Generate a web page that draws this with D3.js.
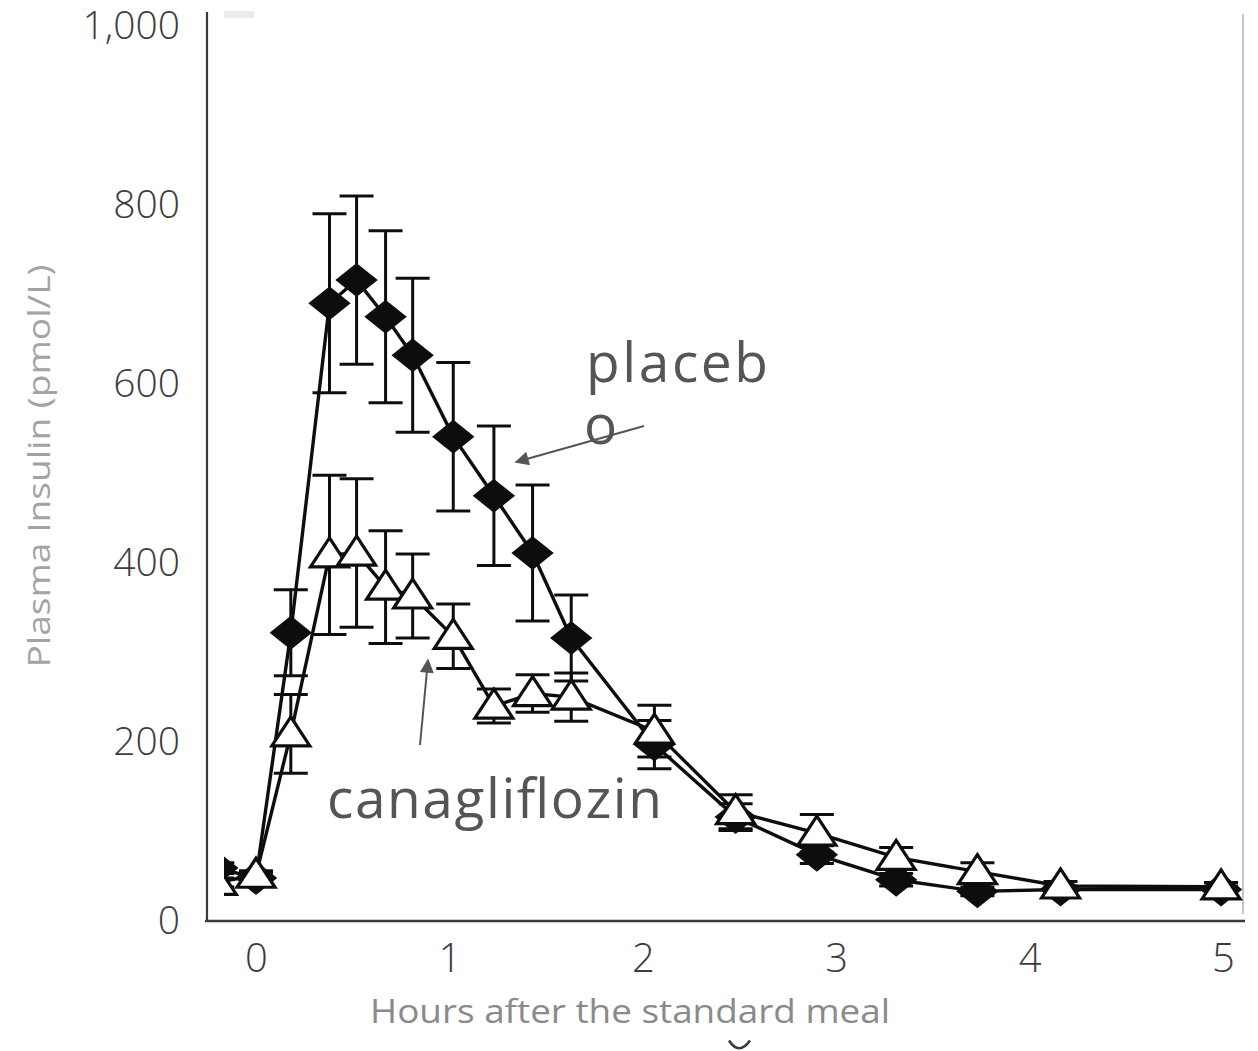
<!DOCTYPE html>
<html>
<head>
<meta charset="utf-8">
<script src="https://cdn.jsdelivr.net/npm/d3@7"></script>
<style>
  html, body { margin: 0; padding: 0; background: #fff; }
  svg { display: block; font-family: "Open Sans", "Noto Sans", sans-serif; }
</style>
</head>
<body>
<svg id="chart" width="1258" height="1051"></svg>
<script>
// Sampling times (hours after the meal)
const hours = [-0.2, 0, 0.18, 0.38, 0.52, 0.67, 0.81, 1.02, 1.23, 1.43, 1.63, 2.06, 2.48, 2.90, 3.31, 3.73, 4.16, 4.99];

// Mean plasma insulin (pmol/L) and standard errors
const placebo   = [58, 47, 321, 689, 715, 674, 631, 540, 474, 410, 315, 196, 115, 73, 45, 32, 34, 34];
const placeboSE = [6, 6, 48, 100, 94, 96, 86, 83, 78, 76, 48, 27, 15, 10, 7, 5, 4, 4];
const cana      = [42, 50, 208, 408, 410, 372, 362, 317, 239, 253, 249, 211, 121, 97, 70, 54, 38, 37];
const canaSE    = [5, 5, 44, 89, 83, 63, 47, 36, 19, 21, 27, 29, 19, 21, 11, 10, 5, 5];

const yTicks = [0, 200, 400, 600, 800, 1000];
const xTicks = [0, 1, 2, 3, 4, 5];

const svg = d3.select("#chart");

const x = d3.scaleLinear().domain([0, 5]).range([256, 1223]);
const y = d3.scaleLinear().domain([0, 1000]).range([920, 25]);

// soft edge on the plotted marks
const defs = svg.append("defs");
defs.append("filter").attr("id", "soft")
  .append("feGaussianBlur").attr("stdDeviation", 0.7);
defs.append("clipPath").attr("id", "plotClip")
  .append("rect").attr("x", 224).attr("y", 8).attr("width", 1019).attr("height", 910);

// small tinted strip in the top-left corner of the plot panel
svg.append("rect").attr("x", 224).attr("y", 11).attr("width", 30).attr("height", 7)
  .attr("fill", "#e9ecf1");

// right edge of the plot panel
svg.append("line").attr("x1", 1243).attr("x2", 1243).attr("y1", 14).attr("y2", 914)
  .attr("stroke", "#b5b5b5").attr("stroke-width", 1.5);

// axes (lines only, labels drawn separately)
const yAxis = d3.axisLeft(y).tickValues(yTicks).tickSize(0).tickFormat(d3.format(","));
const gy = svg.append("g").attr("transform", "translate(207,0)").call(yAxis);
gy.select(".domain").attr("stroke", "#3a3a3a").attr("stroke-width", 2.2)
  .attr("d", `M0,12V${y(0) + 1}`);
gy.selectAll(".tick text")
  .attr("x", -27)
  .attr("dy", "0.34em")
  .attr("font-size", 39)
  .attr("font-weight", 300)
  .attr("fill", "#3d3d3d")
  .attr("font-family", "'Open Sans', sans-serif");

const xAxis = d3.axisBottom(x).tickValues(xTicks).tickSize(0).tickFormat(d3.format("d"));
const gx = svg.append("g").attr("transform", `translate(0,${y(0) + 1})`).call(xAxis);
gx.select(".domain").attr("stroke", "#3a3a3a").attr("stroke-width", 2.4)
  .attr("d", "M205,0H1245");
gx.selectAll(".tick text")
  .attr("y", 37)
  .attr("dy", "0.34em")
  .attr("font-size", 40)
  .attr("font-weight", 300)
  .attr("fill", "#3d3d3d")
  .attr("font-family", "'Open Sans', sans-serif");

// axis titles
svg.append("text")
  .attr("transform", "translate(50,466) rotate(-90)")
  .attr("text-anchor", "middle")
  .attr("font-size", 31)
  .attr("fill", "#a3a3a3")
  .attr("textLength", 403).attr("lengthAdjust", "spacingAndGlyphs")
  .text("Plasma Insulin (pmol/L)");

svg.append("text")
  .attr("x", 630).attr("y", 1023)
  .attr("text-anchor", "middle")
  .attr("font-size", 32)
  .attr("fill", "#8a8a8a")
  .attr("textLength", 520).attr("lengthAdjust", "spacingAndGlyphs")
  .text("Hours after the standard meal");

// small stray hook below the x title
svg.append("path")
  .attr("d", "M729,1040.5 Q739,1056 750,1040.5")
  .attr("fill", "none").attr("stroke", "#3a3a3a").attr("stroke-width", 2.6);

// data layer
const plot = svg.append("g").attr("clip-path", "url(#plotClip)")
  .append("g").attr("filter", "url(#soft)");

const ink = "#111";
const capW = 17;

function errorBars(vals, se) {
  const g = plot.append("g").attr("stroke", ink).attr("stroke-width", 3).attr("fill", "none");
  hours.forEach((h, i) => {
    const cx = x(h), top = y(vals[i] + se[i]), bot = y(vals[i] - se[i]);
    g.append("line").attr("x1", cx).attr("x2", cx).attr("y1", top).attr("y2", bot);
    g.append("line").attr("x1", cx - capW).attr("x2", cx + capW).attr("y1", top).attr("y2", top);
    g.append("line").attr("x1", cx - capW).attr("x2", cx + capW).attr("y1", bot).attr("y2", bot);
  });
}
errorBars(placebo, placeboSE);
errorBars(cana, canaSE);

const line = d3.line().x((d, i) => x(hours[i])).y(d => y(d));
plot.append("path").datum(placebo).attr("d", line)
  .attr("fill", "none").attr("stroke", ink).attr("stroke-width", 3.4);
plot.append("path").datum(cana).attr("d", line)
  .attr("fill", "none").attr("stroke", ink).attr("stroke-width", 3.4);

// placebo: filled diamonds
plot.append("g").selectAll("path").data(placebo).join("path")
  .attr("transform", (d, i) => `translate(${x(hours[i])},${y(d)})`)
  .attr("d", "M0,-16L20,0L0,16L-20,0Z")
  .attr("fill", ink).attr("stroke", ink).attr("stroke-width", 1.5);

// canagliflozin: open triangles
plot.append("g").selectAll("path").data(cana).join("path")
  .attr("transform", (d, i) => `translate(${x(hours[i])},${y(d)})`)
  .attr("d", "M0,-17L19,12L-19,12Z")
  .attr("fill", "#fff").attr("stroke", ink).attr("stroke-width", 3.2)
  .attr("stroke-linejoin", "miter");

// annotations
const note = "#555";
defs.append("marker").attr("id", "head")
  .attr("viewBox", "0 0 10 10").attr("refX", 9).attr("refY", 5)
  .attr("markerWidth", 20).attr("markerHeight", 14).attr("markerUnits", "userSpaceOnUse")
  .attr("orient", "auto")
  .append("path").attr("d", "M0,0L10,5L0,10Z").attr("fill", note);

svg.append("line").attr("x1", 644).attr("y1", 426).attr("x2", 516).attr("y2", 462)
  .attr("stroke", note).attr("stroke-width", 2).attr("marker-end", "url(#head)");
svg.append("line").attr("x1", 420).attr("y1", 745).attr("x2", 428).attr("y2", 660)
  .attr("stroke", note).attr("stroke-width", 2).attr("marker-end", "url(#head)");

// wrapped label: one text element, two lines
const placeboLabel = svg.append("text")
  .attr("font-size", 55).attr("fill", note);
placeboLabel.append("tspan").attr("x", 586).attr("y", 382)
  .attr("textLength", 182).attr("lengthAdjust", "spacing")
  .text("placeb");
placeboLabel.append("tspan").attr("x", 584).attr("y", 444)
  .text("o");

svg.append("text").attr("x", 327).attr("y", 818)
  .attr("font-size", 55).attr("fill", note)
  .attr("textLength", 335).attr("lengthAdjust", "spacing")
  .text("canagliflozin");
</script>
</body>
</html>
